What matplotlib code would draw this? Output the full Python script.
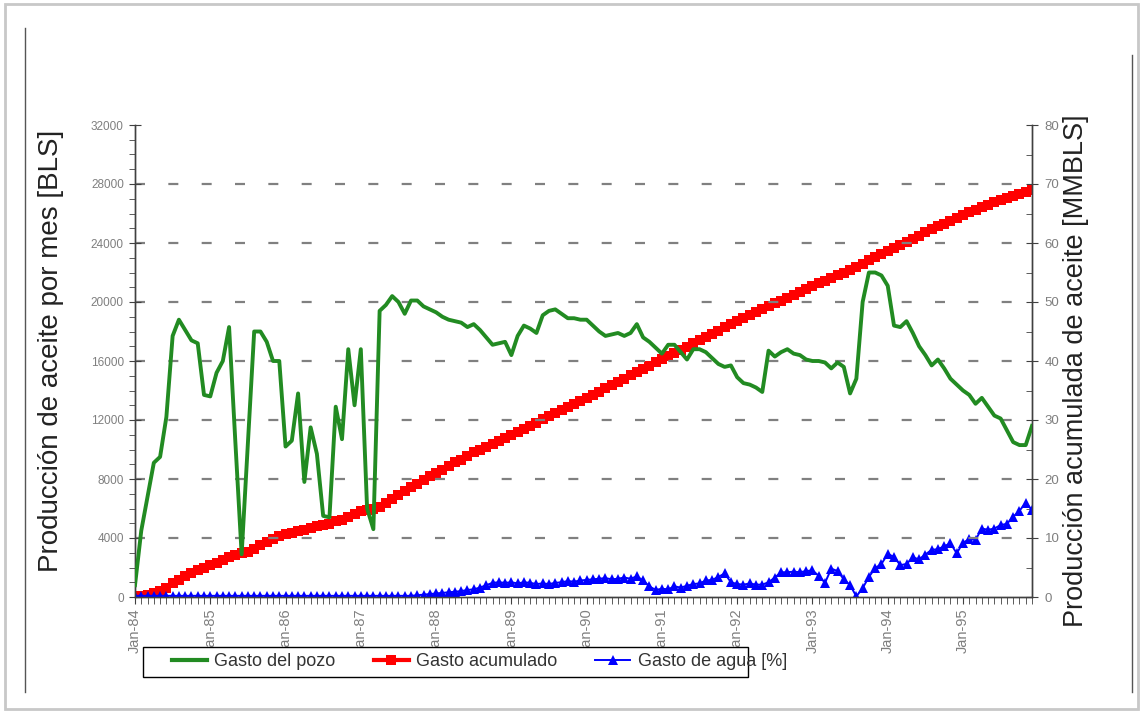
import matplotlib.pyplot as plt
from matplotlib.lines import Line2D
from matplotlib.patches import Rectangle
from matplotlib.ticker import MultipleLocator, FixedLocator

# monthly data, Jan-84 .. Dec-95
year_labels = ["Jan-84", "Jan-85", "Jan-86", "Jan-87", "Jan-88", "Jan-89",
               "Jan-90", "Jan-91", "Jan-92", "Jan-93", "Jan-94", "Jan-95"]
series_names = ["Gasto del pozo", "Gasto acumulado", "Gasto de agua [%]"]

# Gasto del pozo [BLS] (left axis)
gasto_pozo = [
    800, 4500, 6800, 9100, 9500, 12200, 17700, 18800, 18100, 17400, 17200, 13700,
    13600, 15200, 16000, 18300, 10500, 2900, 10500, 18000, 18000, 17300, 16000, 16000,
    10200, 10600, 13800, 7800, 11500, 9700, 5500, 5400, 12900, 10700, 16800, 13000,
    16800, 6000, 4600, 19400, 19800, 20400, 20000, 19200, 20100, 20100, 19700, 19500,
    19300, 19000, 18800, 18700, 18600, 18300, 18500, 18100, 17600, 17100, 17200, 17300,
    16400, 17700, 18400, 18200, 17900, 19100, 19400, 19500, 19200, 18900, 18900, 18800,
    18800, 18400, 18000, 17700, 17800, 17900, 17700, 17900, 18500, 17600, 17300, 16900,
    16500, 17100, 17100, 16600, 16100, 16800, 16800, 16600, 16200, 15800, 15600, 15700,
    14900, 14500, 14400, 14200, 13900, 16700, 16300, 16600, 16800, 16500, 16400, 16100,
    16000, 16000, 15900, 15500, 15900, 15600, 13800, 14800, 20000, 22000, 22000, 21800,
    21100, 18400, 18300, 18700, 17900, 17000, 16400, 15700, 16100, 15500, 14800, 14400,
    14000, 13700, 13100, 13500, 12900, 12300, 12100, 11300, 10500, 10300, 10300, 11600,
]

# Gasto acumulado [MMBLS] (right axis)
gasto_acumulado = [
    0.0, 0.2, 0.4, 0.7, 1.0, 1.5, 2.4, 2.9, 3.5, 4.1, 4.6, 5.0,
    5.4, 5.8, 6.3, 6.8, 7.2, 7.4, 7.7, 8.2, 8.8, 9.3, 9.8, 10.3,
    10.6, 10.9, 11.2, 11.4, 11.7, 12.0, 12.2, 12.4, 12.8, 13.1, 13.6, 14.0,
    14.5, 14.7, 14.9, 15.3, 16.0, 16.6, 17.3, 17.9, 18.6, 19.2, 19.9, 20.5,
    21.1, 21.6, 22.2, 22.8, 23.3, 23.9, 24.5, 25.0, 25.5, 26.0, 26.5, 27.0,
    27.5, 28.0, 28.5, 29.0, 29.5, 30.1, 30.6, 31.2, 31.7, 32.2, 32.7, 33.2,
    33.7, 34.3, 34.8, 35.4, 35.9, 36.5, 37.0, 37.6, 38.1, 38.7, 39.2, 39.8,
    40.3, 40.8, 41.4, 41.9, 42.4, 43.0, 43.5, 44.0, 44.6, 45.1, 45.8, 46.3,
    46.8, 47.3, 47.8, 48.3, 48.8, 49.3, 49.8, 50.2, 50.7, 51.2, 51.7, 52.2,
    52.7, 53.2, 53.6, 54.1, 54.6, 55.0, 55.5, 56.0, 56.5, 57.1, 57.6, 58.2,
    58.7, 59.2, 59.7, 60.2, 60.7, 61.2, 61.8, 62.3, 62.8, 63.3, 63.8, 64.3,
    64.7, 65.2, 65.6, 66.1, 66.5, 66.9, 67.3, 67.6, 68.0, 68.3, 68.7, 69.0,
]

# Gasto de agua [%] (right axis)
gasto_agua = [
    0.2, 0.2, 0.2, 0.2, 0.2, 0.2, 0.2, 0.2, 0.2, 0.2, 0.2, 0.2,
    0.2, 0.2, 0.2, 0.2, 0.2, 0.2, 0.2, 0.2, 0.2, 0.2, 0.2, 0.2,
    0.2, 0.2, 0.2, 0.2, 0.2, 0.2, 0.2, 0.2, 0.2, 0.2, 0.2, 0.2,
    0.2, 0.2, 0.2, 0.2, 0.2, 0.2, 0.2, 0.2, 0.2, 0.3, 0.4, 0.5,
    0.6, 0.7, 0.8, 0.9, 1.0, 1.2, 1.3, 1.6, 2.0, 2.4, 2.5, 2.4,
    2.5, 2.3, 2.5, 2.4, 2.2, 2.3, 2.2, 2.4, 2.5, 2.7, 2.6, 2.8,
    2.9, 3.0, 3.1, 3.2, 3.0, 3.1, 3.3, 3.1, 3.5, 2.8, 1.8, 1.2,
    1.4, 1.3, 1.8, 1.6, 1.9, 2.2, 2.3, 2.8, 2.9, 3.4, 4.0, 2.5,
    2.2, 2.1, 2.3, 2.1, 2.1, 2.5, 3.3, 4.2, 4.2, 4.3, 4.2, 4.4,
    4.5, 3.6, 2.4, 4.8, 4.4, 3.0, 2.0, 0.1, 1.5, 3.4, 4.9, 5.6,
    7.3, 6.8, 5.4, 5.6, 6.7, 6.4, 7.2, 8.0, 8.1, 8.6, 9.1, 7.4,
    9.2, 9.8, 9.7, 11.6, 11.4, 11.6, 12.2, 12.4, 13.6, 14.6, 16.0, 14.7,
]

grid_levels = [4000, 8000, 12000, 16000, 20000, 24000, 28000]
months = list(range(len(gasto_pozo)))

plt.rcParams["font.family"] = ["Liberation Sans", "DejaVu Sans"]
tick_color = "#7f7f7f"
green, red, blue = "#228b22", "#ff0000", "#0000ff"

W, H = 1143, 713
fig = plt.figure(figsize=(W / 100, H / 100), dpi=100)


def fx(px):
    return px / W


def fy(py):
    return 1 - py / H


# screenshot frame
fig.patches.append(Rectangle((0.004, 0.006), 0.992, 0.988, transform=fig.transFigure,
                             facecolor="none", edgecolor="#c8c8c8", linewidth=2.0))
fig.add_artist(Line2D([fx(25), fx(25)], [fy(692), fy(28)], transform=fig.transFigure,
                      color="#555555", linewidth=1.0))
fig.add_artist(Line2D([fx(1132), fx(1132)], [fy(692), fy(55)], transform=fig.transFigure,
                      color="#555555", linewidth=1.0))

ax = fig.add_axes([fx(135), fy(597), fx(1032) - fx(135), fy(125) - fy(597)])
ax2 = ax.twinx()
ax.set_zorder(ax2.get_zorder() + 1)
ax.patch.set_visible(False)

for level in grid_levels:
    ax.axhline(level, color="#808080", linewidth=1.6, dashes=(4.5, 10.5), zorder=1)

ax2.plot(months, gasto_acumulado, color=red, linewidth=3.0, marker="s",
         markersize=7, markeredgewidth=0, zorder=2)
ax2.plot(months, gasto_agua, color=blue, linewidth=1.4, marker="^",
         markersize=7.5, markeredgewidth=0, zorder=3)
ax.plot(months, gasto_pozo, color=green, linewidth=2.8, zorder=4)

ax.set_xlim(0, 143)
ax.set_ylim(0, 32000)
ax2.set_ylim(0, 80)

for a in (ax, ax2):
    a.spines["top"].set_visible(False)
    for side in ("left", "right", "bottom"):
        a.spines[side].set_color("#404040")
        a.spines[side].set_linewidth(1.0)

ax.xaxis.set_major_locator(FixedLocator(range(0, 144, 12)))
ax.xaxis.set_minor_locator(MultipleLocator(1))
ax.set_xticklabels(year_labels, rotation=90, fontsize=10.5, color=tick_color)
ax.tick_params(axis="x", which="both", direction="out", length=5, color="#404040", pad=3)

ax.yaxis.set_major_locator(MultipleLocator(4000))
ax.yaxis.set_minor_locator(MultipleLocator(1000))
ax.tick_params(axis="y", which="major", direction="inout", length=8, color="#404040",
               labelsize=8.5, labelcolor=tick_color, pad=4)
ax.tick_params(axis="y", which="minor", direction="out", length=4, color="#404040")

ax2.yaxis.set_major_locator(MultipleLocator(10))
ax2.yaxis.set_minor_locator(MultipleLocator(5))
ax2.tick_params(axis="y", which="major", direction="inout", length=8, color="#404040",
                labelsize=9.5, labelcolor=tick_color, pad=5)
ax2.tick_params(axis="y", which="minor", direction="in", length=4, color="#404040")

ax.set_ylabel("Producción de aceite por mes [BLS]", fontsize=20, color="#222222")
ax.yaxis.set_label_coords((64 - 135) / 897, (597 - 351) / 472)
ax2.set_ylabel("Producción acumulada de aceite [MMBLS]", fontsize=19.5, color="#222222",
               rotation=90)
ax2.yaxis.set_label_coords((1063 - 135) / 897, (597 - 371) / 472)

# legend box (text of the last entry runs past its right edge, as in the original)
fig.patches.append(Rectangle((fx(143), fy(677)), fx(748) - fx(143), fy(647) - fy(677),
                             transform=fig.transFigure, facecolor="white",
                             edgecolor="#000000", linewidth=1.0, zorder=2))
handles = [
    Line2D([], [], color=green, linewidth=3.0),
    Line2D([], [], color=red, linewidth=3.0, marker="s", markersize=7, markeredgewidth=0),
    Line2D([], [], color=blue, linewidth=1.4, marker="^", markersize=7, markeredgewidth=0),
]
leg = fig.legend(handles, series_names, loc="center left", bbox_to_anchor=(fx(172), fy(662)),
                 ncol=3, fontsize=13, frameon=False, handlelength=1.95, handletextpad=0.4,
                 columnspacing=2.1, borderpad=0, borderaxespad=0)
leg.set_zorder(3)
for txt in leg.get_texts():
    txt.set_color("#333333")

fig.savefig("out.png", dpi=100)
